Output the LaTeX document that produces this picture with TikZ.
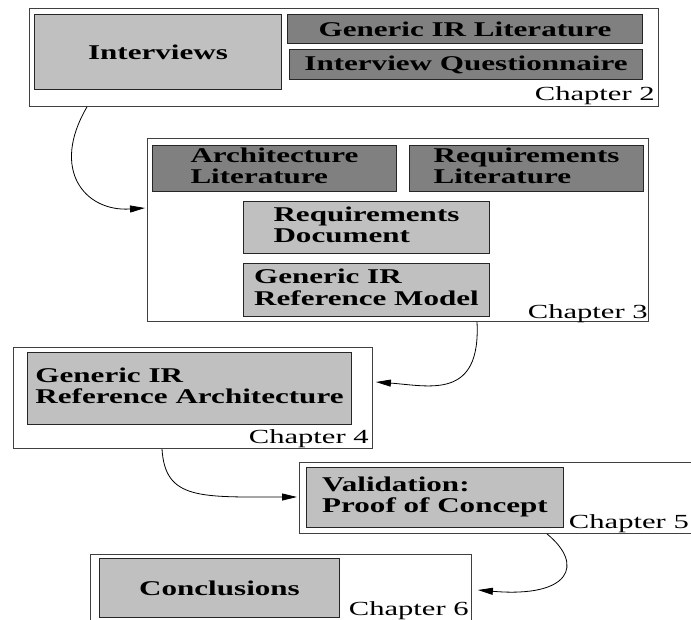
\documentclass[tikz,border=0pt]{standalone}
\usepackage{fontspec}
\usepackage{graphicx}
\setmainfont{Liberation Serif}
\usetikzlibrary{arrows.meta,calc}

\definecolor{lightbox}{RGB}{192,192,192}
\definecolor{darkbox}{RGB}{128,128,128}

% wide lettering used throughout the figure
\newcommand\boxtext[1]{\scalebox{1.48}[1]{\begin{tabular}{@{}l@{}}#1\end{tabular}}}
\newcommand\boxline[1]{\scalebox{1.48}[1]{#1}}
\newcommand\chaplbl[1]{\scalebox{1.53}[1]{#1}}

\tikzset{
  chapframe/.style={draw=black!75, line width=0.9pt, fill=white, anchor=north west, inner sep=0pt},
  litebox/.style={draw=black!85, line width=1pt, fill=lightbox, anchor=north west, inner sep=0pt,
    font=\fontsize{21}{21.5}\selectfont\bfseries},
  darkbx/.style={litebox, fill=darkbox},
  chaplabel/.style={anchor=base east, inner sep=0pt, font=\fontsize{20}{22}\selectfont},
  flow/.style={-{Triangle[length=15pt,width=7pt]}, line width=0.8pt},
}

\begin{document}
\begin{tikzpicture}[x=1pt,y=-1pt]
\useasboundingbox (0,0) rectangle (691,619);

% Chapter 2
\node[chapframe, minimum width=629pt, minimum height=98pt] (c2) at (29,8) {};
\node[litebox, minimum width=247pt, minimum height=75pt] (iv) at (34,14) {\boxline{Interviews}};
\node[darkbx, minimum width=355pt, minimum height=29pt] (gl) at (287,14) {\boxline{Generic IR Literature}};
\node[darkbx, minimum width=353pt, minimum height=30pt] (iq) at (289,49) {\boxline{Interview Questionnaire}};
\node[chaplabel] (l2) at ($(c2.south east)+(-4,-6)$) {\chaplbl{Chapter 2}};

% Chapter 3
\node[chapframe, minimum width=501pt, minimum height=183pt] (c3) at (147,138) {};
\node[darkbx, minimum width=244pt, minimum height=46pt] (al) at (152,145) {\boxtext{Architecture\\Literature}};
\node[darkbx, minimum width=234pt, minimum height=46pt] (rl) at (409,145) {\boxtext{Requirements\\Literature}};
\node[litebox, minimum width=246pt, minimum height=52pt] (rd) at (243,201) {\boxtext{Requirements\\Document}};
\node[litebox, minimum width=246pt, minimum height=53pt] (rm) at (243,263) {\boxtext{Generic IR\\Reference Model}};
\node[chaplabel] (l3) at ($(c3.south east)+(-1,-3)$) {\chaplbl{Chapter 3}};

% Chapter 4
\node[chapframe, minimum width=359pt, minimum height=101pt] (c4) at (13,347) {};
\node[litebox, minimum width=324pt, minimum height=72pt] (ra) at (27,352) {\boxtext{Generic IR\\Reference Architecture}};
\node[chaplabel] (l4) at ($(c4.south east)+(-4,-5)$) {\chaplbl{Chapter 4}};

% Chapter 5
\node[chapframe, minimum width=406pt, minimum height=71pt] (c5) at (299,462) {};
\node[litebox, minimum width=257pt, minimum height=60pt] (pc) at (306,467) {\boxtext{Validation:\\Proof of Concept}};
\node[chaplabel] (l5) at ($(c5.south west)+(390,-5)$) {\chaplbl{Chapter 5}};

% Chapter 6
\node[chapframe, minimum width=381pt, minimum height=80pt] (c6) at (90,554) {};
\node[litebox, minimum width=240pt, minimum height=59pt] (cc) at (99,558) {\boxline{Conclusions}};
\node[chaplabel] (l6) at ($(c6.north east)+(-3,61)$) {\chaplbl{Chapter 6}};

% flow between chapters
\draw[flow] ($(c2.south west)+(58,0)$) .. controls (50,170) and (85,212) .. ($(c3.north west)+(-2,70)$);
\draw[flow] ($(c3.south west)+(330,0)$) .. controls (481,400) and (430,386) .. ($(c4.north east)+(3,35)$);
\draw[flow] ($(c4.south west)+(149,0)$) .. controls (165,500) and (200,497) .. ($(c5.north west)+(-2,35)$);
\draw[flow] ($(c5.south west)+(248,0)$) .. controls (585,565) and (570,598) .. ($(c6.north east)+(6,36)$);
\end{tikzpicture}
\end{document}
